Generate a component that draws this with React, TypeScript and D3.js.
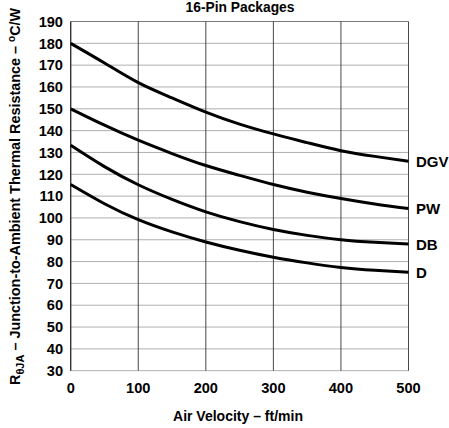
import React from "react";
import * as d3 from "d3";

const airVelocity = [0, 50, 100, 150, 200, 250, 300, 350, 400, 450, 500];
const seriesNames = ["DGV", "PW", "DB", "D"];
const dgv = [180, 171, 162, 155, 148.5, 143, 138.5, 134.5, 130.8, 128.2, 126];
const pw = [150, 142.5, 135.6, 129.5, 124, 119.5, 115.3, 111.8, 108.9, 106.4, 104.3];
const db = [133.3, 123.5, 115.2, 108.5, 102.8, 98.3, 94.7, 92, 90, 88.8, 88];
const dd = [115.3, 106.5, 99.2, 93.6, 89, 85.2, 82, 79.4, 77.3, 76, 75.1];
const seriesValues = [dgv, pw, db, dd];
const xTicks = [0, 100, 200, 300, 400, 500];
const yTicks = [30, 40, 50, 60, 70, 80, 90, 100, 110, 120, 130, 140, 150, 160, 170, 180, 190];

const W = 449;
const H = 428;
const FONT = "'Liberation Sans', Arial, Helvetica, sans-serif";

export default function App() {
  const x = d3.scaleLinear().domain([0, 500]).range([70.7, 408.5]);
  const y = d3.scaleLinear().domain([30, 190]).range([370.7, 21.5]);
  const line = d3
    .line<[number, number]>()
    .x((d) => x(d[0]))
    .y((d) => y(d[1]))
    .curve(d3.curveNatural);

  return (
    <svg
      width={W}
      height={H}
      style={{ position: "absolute", left: 0, top: 0, background: "#fff" }}
      fontFamily={FONT}
    >
      {/* horizontal grid */}
      {yTicks.map((t) => (
        <line
          key={"h" + t}
          x1={x(0)}
          x2={x(500)}
          y1={y(t)}
          y2={y(t)}
          stroke={t === 190 ? "#555" : "#9a9a9a"}
          strokeWidth={0.8}
        />
      ))}
      {/* vertical grid */}
      {xTicks.map((t) => (
        <line
          key={"v" + t}
          x1={x(t)}
          x2={x(t)}
          y1={y(190)}
          y2={y(30)}
          stroke="#333"
          strokeWidth={t === 0 ? 1.4 : 0.9}
        />
      ))}
      {/* curves */}
      {seriesValues.map((vals, i) => (
        <path
          key={seriesNames[i]}
          d={line(airVelocity.map((v, j) => [v, vals[j]] as [number, number])) || ""}
          fill="none"
          stroke="#000"
          strokeWidth={3}
        />
      ))}
      {/* series labels */}
      {seriesValues.map((vals, i) => (
        <text
          key={"l" + i}
          x={416}
          y={y(vals[vals.length - 1])}
          dy="0.36em"
          fontSize={15}
          fontWeight="bold"
        >
          {seriesNames[i]}
        </text>
      ))}
      {/* y tick labels */}
      {yTicks.map((t) => (
        <text
          key={"yt" + t}
          x={63}
          y={y(t)}
          dy="0.36em"
          textAnchor="end"
          fontSize={14.6}
          fontWeight="bold"
        >
          {t}
        </text>
      ))}
      {/* x tick labels */}
      {xTicks.map((t) => (
        <text
          key={"xt" + t}
          x={x(t)}
          y={393}
          textAnchor="middle"
          fontSize={14.6}
          fontWeight="bold"
        >
          {t}
        </text>
      ))}
      {/* title */}
      <text x={240} y={12} textAnchor="middle" fontSize={13.8} fontWeight="bold">
        16-Pin Packages
      </text>
      {/* x axis title */}
      <text x={238} y={421} textAnchor="middle" fontSize={14} fontWeight="bold">
        Air Velocity – ft/min
      </text>
      {/* y axis title */}
      <text
        transform={`translate(20, 385) rotate(-90)`}
        textAnchor="start"
        fontSize={14.4}
        fontWeight="bold"
      >
        R
        <tspan fontSize={11} dy={4}>θJA</tspan>
        <tspan dy={-4}> – Junction-to-Ambient Thermal Resistance – </tspan>
        <tspan fontSize={10} dy={-5}>o</tspan>
        <tspan dy={5}>C/W</tspan>
      </text>
    </svg>
  );
}
